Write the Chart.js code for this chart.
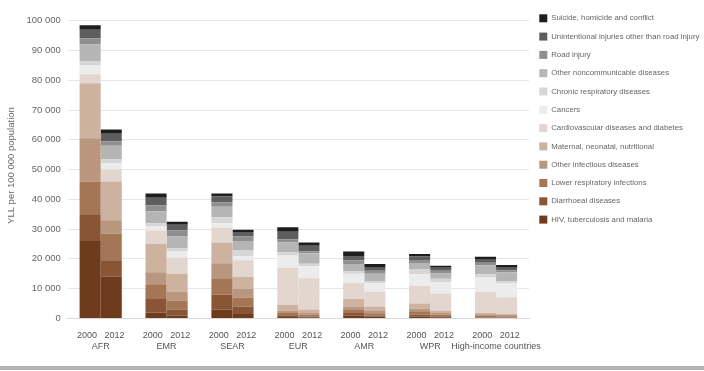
<!DOCTYPE html>
<html>
<head>
<meta charset="utf-8">
<script src="https://cdn.jsdelivr.net/npm/chart.js@4"></script>
<style>
	html, body { margin: 0; padding: 0; background: #fff; }
	#wrap { width: 704px; height: 366px; position: relative; }
	#bottom-line { width: 704px; height: 4px; background: #b4b4b4; }
</style>
</head>
<body>
<div id="wrap"><canvas id="chart"></canvas></div>
<div id="bottom-line"></div>
<script>
// ================ Data ================
const regions = ["AFR", "EMR", "SEAR", "EUR", "AMR", "WPR", "High-income countries"];
const years = ["2000", "2012"];
const causes = [
	"HIV, tuberculosis and malaria",
	"Diarrhoeal diseases",
	"Lower respiratory infections",
	"Other infectious diseases",
	"Maternal, neonatal, nutritional",
	"Cardiovascular diseases and diabetes",
	"Cancers",
	"Chronic respiratory diseases",
	"Other noncommunicable diseases",
	"Road injury",
	"Unintentional injuries other than road injury",
	"Suicide, homicide and conflict",
];
const causeColors = [
	"#6e3b1d",
	"#8a5535",
	"#a57656",
	"#b9967e",
	"#cdb2a0",
	"#e2d6cf",
	"#ececec",
	"#d6d6d6",
	"#b5b5b5",
	"#8f8f8f",
	"#5e5e5e",
	"#1e1e1e",
];

// YLL per 100 000 population, one array per cause, one value per region
const yll2000 = [
	[26000, 2000, 3000, 500, 1000, 600, 200],
	[9000, 4500, 5000, 300, 800, 600, 100],
	[11000, 5000, 5500, 1000, 1000, 1200, 500],
	[14500, 4000, 5000, 800, 1200, 900, 600],
	[18500, 9500, 7000, 2000, 2500, 1700, 500],
	[3000, 4500, 5000, 12500, 5500, 6000, 7000],
	[3000, 1500, 1500, 4000, 3000, 3800, 5000],
	[1500, 1000, 2000, 1000, 800, 1800, 900],
	[5500, 4000, 3500, 3500, 2500, 2000, 3000],
	[2000, 2000, 1500, 1000, 1200, 1000, 900],
	[3000, 2500, 2000, 2500, 1500, 1200, 1000],
	[1500, 1500, 1000, 1500, 1500, 800, 1000],
];
const yll2012 = [
	[14000, 1000, 1500, 400, 600, 400, 150],
	[5500, 2000, 2500, 200, 400, 300, 100],
	[9000, 3000, 3000, 600, 700, 600, 450],
	[4500, 3000, 3000, 600, 800, 500, 500],
	[13000, 6000, 4000, 1200, 1500, 800, 400],
	[4000, 5500, 5500, 10500, 5000, 5800, 5500],
	[2000, 2000, 1500, 4000, 2800, 3700, 4600],
	[1500, 1000, 2000, 900, 700, 1200, 800],
	[4500, 4000, 3000, 3500, 2500, 1800, 3000],
	[1500, 2000, 1500, 700, 1000, 900, 600],
	[2500, 2000, 1500, 1800, 1000, 1000, 900],
	[1500, 1000, 800, 1100, 1300, 700, 900],
];
const yTicks = [0, 10000, 20000, 30000, 40000, 50000, 60000, 70000, 80000, 90000, 100000];

// ================ Chart ================
const FONT = '"Liberation Sans Narrow", "Liberation Sans", Arial, sans-serif';

function spaced(v) {
	return v.toString().replace(/\B(?=(\d{3})+(?!\d))/g, " ");
}

const datasets = [];
years.forEach((year, yi) => {
	const src = yi == 0 ? yll2000 : yll2012;
	causes.forEach((cause, ci) => {
		datasets.push({
			label: cause,
			data: src[ci],
			backgroundColor: causeColors[ci],
			stack: year,
			borderWidth: 0,
		});
	});
});

const chart = new Chart(document.getElementById("chart"), {
	type: "bar",
	data: {
		labels: regions.map((r) => [years.join("   "), r]),
		datasets: datasets,
	},
	options: {
		responsive: true,
		maintainAspectRatio: false,
		animation: false,
		devicePixelRatio: 1,
		layout: { padding: { top: 4, left: 4, right: 0, bottom: 10 } },
		categoryPercentage: 0.64,
		barPercentage: 1,
		plugins: {
			tooltip: { enabled: false },
			legend: {
				position: "right",
				align: "start",
				reverse: true,
				labels: {
					filter: (item) => item.datasetIndex < causes.length,
					boxWidth: 8,
					boxHeight: 8,
					padding: 10.3,
					color: "#666",
					font: { family: FONT, size: 7.8 },
				},
			},
		},
		scales: {
			x: {
				stacked: true,
				grid: { display: false },
				border: { color: "#d8d8d8" },
				ticks: {
					color: "#555",
					font: { family: FONT, size: 9 },
					maxRotation: 0,
					autoSkip: false,
					padding: 4,
				},
			},
			y: {
				stacked: true,
				min: 0,
				max: 102700, // a little headroom so the 100 000 line sits below the legend top
				afterBuildTicks: (axis) => {
					axis.ticks = yTicks.map((v) => ({ value: v }));
				},
				grid: { color: "#e6e6e6", drawTicks: false },
				border: { display: false },
				ticks: {
					color: "#666",
					font: { family: FONT, size: 9.5 },
					padding: 7,
					callback: (v) => spaced(v),
				},
				title: {
					display: true,
					text: "YLL per 100 000 population",
					color: "#666",
					font: { family: FONT, size: 9.5 },
					padding: 2,
				},
			},
		},
	},
});
</script>
</body>
</html>
